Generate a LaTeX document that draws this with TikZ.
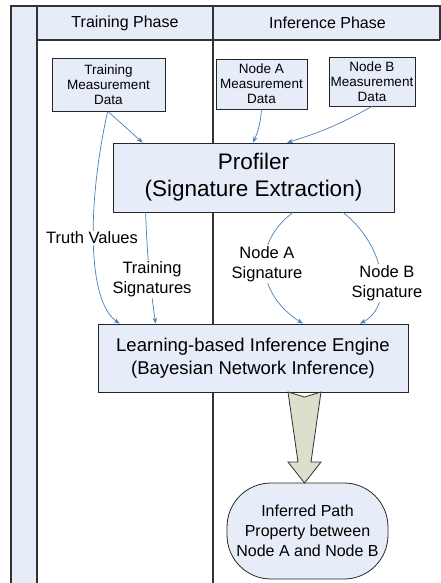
\documentclass[tikz,border=0pt]{standalone}
\usepackage{fontspec}
\setmainfont{Liberation Sans}
\usetikzlibrary{arrows.meta,calc}
\definecolor{boxfill}{HTML}{E6EDF8}
\definecolor{lanefill}{HTML}{E6EDF8}
\definecolor{flowblue}{HTML}{4A7EBB}
\definecolor{arrowfill}{HTML}{DCDFCB}
\definecolor{laneline}{HTML}{333333}
\begin{document}
\begin{tikzpicture}[x=1pt,y=-1pt,
  procbox/.style={draw=black!85, fill=boxfill, line width=0.8pt, align=center, inner sep=0pt},
  datatext/.style={font=\fontsize{13.5}{15}\selectfont},
  headtext/.style={font=\fontsize{16}{19}\selectfont},
  flow/.style={draw=flowblue, line width=0.7pt, -{Stealth[length=6pt,width=4.5pt]}},
  flowlabel/.style={fill=white, inner sep=1pt, align=center, font=\fontsize{16.5}{20}\selectfont},
]
\useasboundingbox (0,0) rectangle (441,583);

% swimlane frame
\fill[lanefill] (11,6) rectangle (37,583);
\fill[lanefill] (37,6) rectangle (440,40);
\draw[laneline, line width=1.4pt] (11,583) -- (11,6) -- (440,6) -- (440,40);
\draw[laneline, line width=1.4pt] (37,6) -- (37,583);
\draw[laneline, line width=1.1pt] (37,40) -- (440,40);
\draw[laneline, line width=1.4pt] (213,6) -- (213,583);

\node[headtext] (hdtrain) at (125,23) {Training Phase};
\node[headtext] (hdinfer) at (327.5,23) {Inference Phase};

% measurement data boxes
\node[procbox, datatext, minimum width=113pt, minimum height=53pt] (tdata) at (108.5,85)
  {Training\\Measurement\\Data};
\node[procbox, datatext, minimum width=91pt, minimum height=50pt] (adata) at (261.5,84)
  {Node A\\Measurement\\Data};
\node[procbox, datatext, minimum width=86pt, minimum height=49pt] (bdata) at (372,81.5)
  {Node B\\Measurement\\Data};

% processing stages
\node[procbox, minimum width=281pt, minimum height=69pt,
      font=\fontsize{22.5}{27}\selectfont] (prof) at (253.5,177.5)
  {Profiler\\(Signature Extraction)};
\node[procbox, minimum width=310pt, minimum height=68pt,
      font=\fontsize{18.5}{23}\selectfont] (eng) at (253,358)
  {Learning-based Inference Engine\\(Bayesian Network Inference)};
\node[procbox, minimum width=161pt, minimum height=96pt, rounded corners=44pt,
      font=\fontsize{16}{20}\selectfont] (inf) at (307.5,531)
  {Inferred Path\\Property between\\Node A and Node B};

% data flows
\draw[flow] (tdata.south) -- ([xshift=30pt]prof.north west);
\draw[flow] (adata.south) to[bend left=10] ([xshift=-0.5pt]prof.north);
\draw[flow] (bdata.south) to[bend left=6] ([xshift=33.5pt]prof.north);
\draw[flow] ([xshift=-1pt]tdata.south) .. controls (88,200) and (86,300) .. ([xshift=22pt]eng.north west);
\draw[flow] ([xshift=33pt]prof.south west) to[bend right=3] ([xshift=58pt]eng.north west);
\draw[flow] ([xshift=39.5pt]prof.south) .. controls (250,245) and (258,295) .. ([xshift=50pt]eng.north);
\draw[flow] ([xshift=89.5pt]prof.south) .. controls (385,245) and (395,305) .. ([xshift=107pt]eng.north);

\node[flowlabel] (lbtruth) at (92,238) {Truth Values};
\node[flowlabel] (lbtrain) at (152,279) {Training\\Signatures};
\node[flowlabel] (lbasig) at (267,264) {Node A\\Signature};
\node[flowlabel] (lbbsig) at (387,283) {Node B\\Signature};

% result arrow
\draw[draw=black!80, fill=arrowfill, line width=0.8pt, line join=miter]
  (288,392) -- (304.5,397) -- (321,392) -- (311,462) -- (321,462)
  -- (304.5,483) -- (288,462) -- (298,462) -- cycle;
\end{tikzpicture}
\end{document}
